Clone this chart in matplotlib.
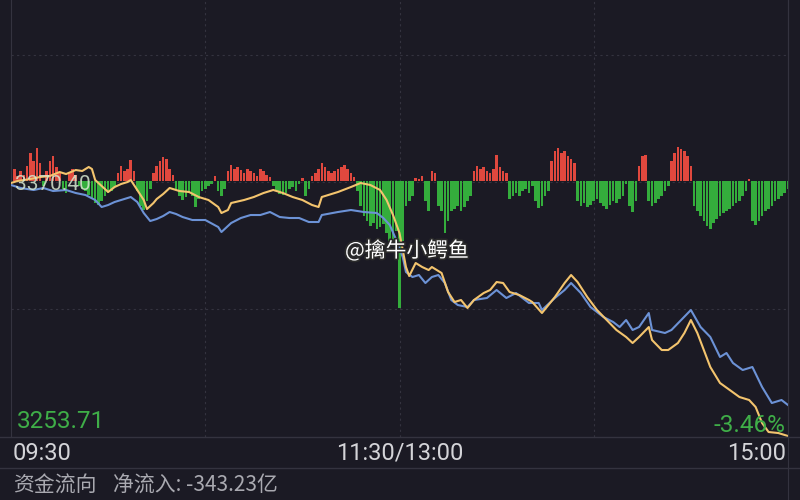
import matplotlib.pyplot as plt
import numpy as np
import matplotlib.patheffects as pe

# net fund flow per minute (亿), 09:30 .. 15:00 (241 minutes)
flow = [0.8, 1.2, 0.5, 1.0, 0.6,
        1.5, 2.8, 2.0, 3.3, 1.8,
        -0.5,
        1.0, 2.0, 2.5, 1.4, 0.8,
        -0.8, -1.2,
        0.8, 1.2, 0.6,
        -0.5, -0.8, -1.0, -1.4, -1.8, -2.2, -2.4, -2.0, -1.5, -1.2, -1.0, -0.6,
        0.8, 1.5, 1.0, 1.2, 2.1, 1.0,
        -1.0, -2.5, -2.9, -2.0, -0.8,
        0.8, 1.5, 2.0, 2.4, 2.2, 1.2, 0.6,
        -0.8, -1.5, -1.9, -1.6, -1.2, -1.5, -2.6, -1.8, -1.0, -0.8, -0.5, -0.3,
        0.5,
        -1.0, -1.5, -0.8,
        1.0, 1.6, 1.2, 1.4, 1.1, 0.8, 1.2, 1.0, 0.8, 0.5, 1.2, 1.0, 0.6, 0.4,
        -0.5, -1.0, -1.3, -1.4, -1.2, -0.8, -0.6, -1.0,
        -0.3, 0.3, -1.5, -0.8,
        0.5, 0.8, 1.2, 1.8, 1.4, 1.0, 0.8, 1.0, 1.2, 1.4, 1.6, 1.2, 0.8, 0.4,
        -1.0, -2.5, -3.5, -4.0, -4.5, -4.2, -4.8, -4.6, -4.3, -5.2, -6.0, -6.4, -5.0,
        -12.7,
        -6.0, -2.5, -2.0, -1.5,
        0.3, 0.2, 0.5,
        -2.0, -3.0,
        1.0, 0.8,
        -2.5, -3.0, -5.2, -4.0, -3.0, -2.8, -2.5, -3.0, -2.6, -2.0, -1.5,
        1.0, 1.5, 1.2, 1.4, 1.0, 0.8, 1.2, 2.6, 1.4, 1.0, 0.8,
        -1.8, -1.5, -1.2, -1.5, -1.0, -0.8, -1.2, -0.5,
        -2.0, -2.7, -2.5, -1.5, -1.0,
        2.0, 3.0, 3.3, 2.8, 3.0, 2.5, 2.2, 1.8,
        -2.0, -2.5, -2.2, -2.6, -2.4, -2.0, -1.8, -2.2, -2.5, -2.8, -2.4, -2.0, -2.2, -1.8, -1.5,
        -0.3, -2.5, -3.1, -2.0,
        1.5, 2.5, 2.6,
        -2.0, -2.5, -2.2, -1.8, -1.5, -1.0, -0.5,
        2.0, 2.8, 3.4, 3.2, 3.0, 2.5, 1.5,
        -2.5, -3.0, -3.5, -4.0, -4.5, -4.8, -4.2, -3.8, -3.5, -3.2, -3.0, -2.8, -2.5, -2.2, -2.0, -1.5, -1.0,
        0.2,
        -4.0, -4.4, -4.0, -3.5, -3.0, -2.8, -2.5, -2.0, -1.8, -1.5, -1.2, -0.8]

# yellow line (minute, price)
yellow_t = [0, 2, 6, 9, 12, 15, 17, 20, 22, 24, 25, 26, 28, 30, 32, 34, 36, 37, 39, 41,
            42, 44, 45, 47, 49, 50, 52, 55, 58, 61, 64, 65, 67, 68, 72, 75, 78, 81, 84, 87,
            90, 93, 95, 96, 101, 105, 108, 111, 114, 116, 118, 120, 121, 122, 123, 125, 127, 129, 130, 133,
            135, 137, 139, 141, 143, 146, 148, 150, 152, 154, 157, 160, 161, 164, 168, 171, 173, 175, 178, 181,
            184, 187, 190, 192, 194, 197, 198, 201, 203, 206, 208, 210, 212, 214, 216, 219, 222, 225, 228, 230,
            232, 234, 237, 240]
yellow_p = [3371.33, 3372.26, 3373.19, 3374.12, 3374.58, 3376.44, 3375.51, 3377.37, 3376.91, 3378.77,
            3377.84, 3372.72, 3369.94, 3367.15, 3369.47, 3370.86, 3371.79, 3372.72, 3368.08, 3363.43,
            3359.24, 3362.03, 3363.89, 3366.22, 3369.01, 3368.54, 3367.61, 3367.15, 3364.82, 3363.43,
            3360.17, 3357.38, 3358.78, 3362.03, 3363.43, 3364.82, 3366.68, 3368.08, 3366.68, 3364.82,
            3363.43, 3361.10, 3360.17, 3364.82, 3367.15, 3369.47, 3371.33, 3370.40, 3368.08, 3363.43,
            3356.45, 3348.08, 3340.18, 3332.28, 3328.09, 3334.14, 3332.28, 3330.88, 3332.28, 3329.49,
            3320.66, 3316.01, 3316.94, 3313.22, 3316.94, 3320.19, 3321.59, 3325.30, 3324.84, 3320.66,
            3319.26, 3316.94, 3316.01, 3310.89, 3318.33, 3324.84, 3328.56, 3325.30, 3318.33, 3312.29,
            3307.64, 3303.00, 3299.74, 3296.95, 3299.74, 3304.38, 3298.34, 3293.69, 3293.69, 3296.95,
            3301.60, 3307.64, 3301.60, 3293.69, 3285.79, 3278.35, 3275.10, 3271.84, 3270.45, 3267.19,
            3259.75, 3255.57, 3255.10, 3253.71]

# blue line (minute, price)
blue_t = [0, 3, 7, 10, 13, 17, 20, 23, 26, 28, 30, 32, 35, 37, 39, 41, 43, 45, 47, 49,
          51, 53, 56, 60, 64, 65, 68, 71, 74, 77, 80, 83, 86, 89, 92, 95, 96, 101, 105, 109,
          113, 115, 117, 119, 121, 122, 124, 126, 128, 130, 132, 134, 136, 138, 141, 143, 147, 150, 153, 156,
          160, 163, 164, 168, 171, 173, 176, 179, 183, 186, 188, 190, 192, 194, 197, 198, 202, 204, 207, 210,
          213, 216, 219, 221, 223, 226, 229, 232, 235, 238, 240]
blue_p = [3370.40, 3369.01, 3368.08, 3369.01, 3367.61, 3368.08, 3366.68, 3365.75, 3363.43, 3360.17,
          3361.10, 3362.50, 3363.89, 3364.82, 3362.50, 3357.38, 3353.66, 3354.59, 3355.99, 3357.85,
          3356.92, 3355.52, 3354.13, 3354.13, 3350.87, 3348.55, 3352.73, 3355.06, 3356.45, 3356.45,
          3357.85, 3355.52, 3355.06, 3355.06, 3353.20, 3353.20, 3356.45, 3357.85, 3358.78, 3357.85,
          3357.38, 3355.06, 3351.80, 3344.83, 3336.93, 3329.95, 3327.63, 3328.56, 3324.84, 3327.63,
          3328.56, 3324.84, 3316.94, 3314.61, 3313.68, 3316.94, 3317.87, 3321.59, 3317.87, 3320.19,
          3315.54, 3315.54, 3312.29, 3317.87, 3321.59, 3324.84, 3320.19, 3313.68, 3309.03, 3306.71,
          3304.38, 3307.64, 3303.00, 3304.38, 3310.89, 3303.00, 3301.60, 3303.00, 3307.64, 3312.29,
          3304.38, 3299.74, 3290.44, 3292.30, 3287.65, 3284.39, 3285.79, 3276.49, 3269.05, 3270.45,
          3268.12]

time_labels = ['09:30', '11:30/13:00', '15:00']
prev_close = '3370.40'
low_label = '3253.71'
pct_label = '-3.46%'
flow_title = '资金流向'
flow_total = '净流入: -343.23亿'

bg = '#1b1a24'
grid_c = '#34333f'
red = '#e0483e'
green = '#34ad3c'
cjk = ['Noto Sans CJK SC', 'DejaVu Sans']

fig = plt.figure(figsize=(8, 5), dpi=100, facecolor=bg)
ax = fig.add_axes([11 / 800, 63 / 500, 777 / 800, 437 / 500])
ax.set_facecolor(bg)

# grid
for f in [0.8741, 0.5835, 0.2929]:
    ax.plot([0, 1], [f, f], transform=ax.transAxes, color=grid_c, lw=0.8,
            ls=(0, (2, 3)), zorder=1)
for m in [60, 120, 180]:
    ax.axvline(m, color=grid_c, lw=0.8, ls=(0, (2, 3)), zorder=1)

# fund flow bars
x = np.arange(len(flow))
vals = np.array(flow)
cols = [red if v > 0 else green for v in vals]
ax.bar(x, vals, width=0.8, color=cols, linewidth=0, zorder=2)
ax.set_xlim(0, 240)
ax.set_ylim(-25.6, 18.1)

for s in ['top', 'bottom']:
    ax.spines[s].set_visible(False)
for s in ['left', 'right']:
    ax.spines[s].set_color(grid_c)
    ax.spines[s].set_linewidth(0.8)
ax.set_xticks([])
ax.set_yticks([])

# price lines
ax2 = ax.twinx()
ax2.plot(blue_t, blue_p, color='#6c92d6', lw=1.5, zorder=3)
ax2.plot(yellow_t, yellow_p, color='#f3c46e', lw=1.5, zorder=4)
ax2.set_ylim(3253.25, 3456.41)
ax2.set_xlim(0, 240)
ax2.axis('off')

# frame lines below the plot
fig.add_artist(plt.Line2D([0, 1], [1 - 437 / 500] * 2, color=grid_c, lw=1))
fig.add_artist(plt.Line2D([0, 1], [1 - 468 / 500] * 2, color=grid_c, lw=1))
fig.add_artist(plt.Line2D([788 / 800] * 2, [0, 1], color=grid_c, lw=0.8))

# labels
fig.text(15 / 800, 1 - 185 / 500, prev_close, family='Roboto', fontsize=15,
         color='#d6e6cf', va='center', ha='left', alpha=0.85, zorder=5)
fig.text(17 / 800, 1 - 422 / 500, low_label, family='Roboto', fontsize=17.5,
         color='#3fae48', va='center', ha='left')
fig.text(785 / 800, 1 - 425 / 500, pct_label, family='Roboto', fontsize=17.5,
         color='#3fae48', va='center', ha='right')
fig.text(13 / 800, 1 - 453 / 500, time_labels[0], family='Roboto', fontsize=17,
         color='#d4d4d8', va='center', ha='left')
fig.text(400 / 800, 1 - 453 / 500, time_labels[1], family='Roboto', fontsize=17,
         color='#d4d4d8', va='center', ha='center')
fig.text(786 / 800, 1 - 453 / 500, time_labels[2], family='Roboto', fontsize=17,
         color='#d4d4d8', va='center', ha='right')
fig.text(13 / 800, 1 - 486 / 500, flow_title, family=cjk, fontsize=15,
         color='#a9a9b0', va='center', ha='left')
fig.text(113 / 800, 1 - 486 / 500, flow_total, family=cjk, fontsize=15,
         color='#a9a9b0', va='center', ha='left')

# watermark
fig.text(345 / 800, 1 - 251 / 500, '@擒牛小鳄鱼', family=cjk, fontsize=15,
         color='white', va='center', ha='left',
         path_effects=[pe.withStroke(linewidth=2.5, foreground='#2a2a2a')])

fig.savefig('out.png', dpi=100, facecolor=bg)
